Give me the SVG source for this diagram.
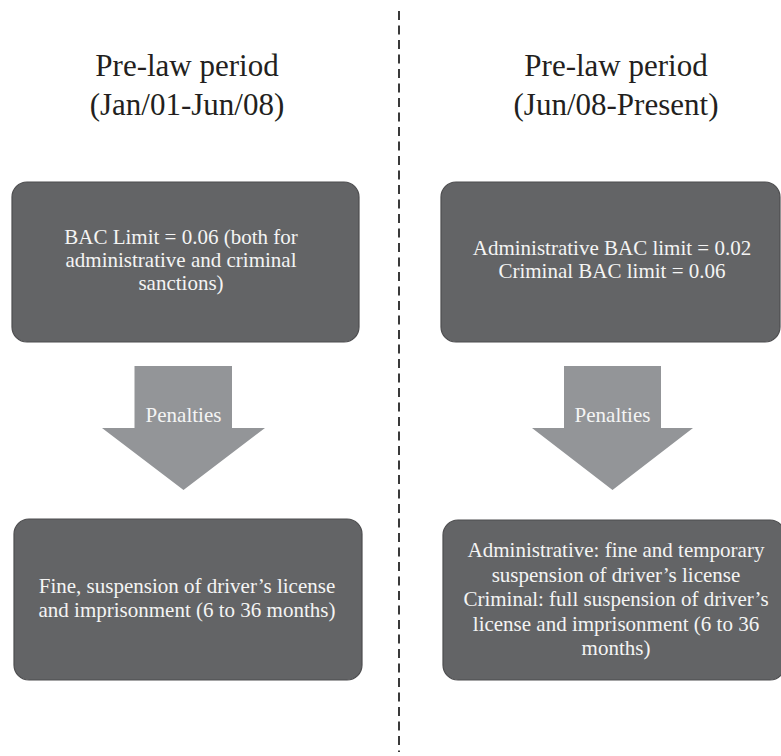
<svg xmlns="http://www.w3.org/2000/svg" width="781" height="756" viewBox="0 0 781 756">
<style>
.title{font-family:"Liberation Serif","Times New Roman",serif;font-size:31px;fill:#231f20;text-anchor:middle}
.box{fill:#636466;stroke:#4d4d4f;stroke-width:1.2}
.btxt{font-family:"Liberation Serif","Times New Roman",serif;font-size:21px;fill:#f4f4f4;text-anchor:middle}
.arrow{fill:#939598}
.divider{stroke:#3a3a3a;stroke-width:2;stroke-dasharray:9 5.5;fill:none}
</style>
<rect width="781" height="756" fill="#ffffff"/>
<g id="connectors">
<line class="divider" x1="399" y1="11" x2="399" y2="752"/>
<g id="arrow-left">
<polygon class="arrow" points="134.5,366 232,366 232,428 265,428 183.5,490 102,428 134.5,428"/>
<text class="btxt" x="183.5" y="422">Penalties</text>
</g>
<g id="arrow-right">
<polygon class="arrow" points="564,366 661,366 661,428 693,428 612.5,490 532,428 564,428"/>
<text class="btxt" x="612.5" y="422">Penalties</text>
</g>
</g>
<g id="title-left">
<text class="title" x="187" y="76">Pre-law period</text>
<text class="title" x="187" y="115">(Jan/01-Jun/08)</text>
</g>
<g id="title-right">
<text class="title" x="616" y="76">Pre-law period</text>
<text class="title" x="616" y="115">(Jun/08-Present)</text>
</g>
<g id="box-left-top">
<rect class="box" x="12" y="182" width="347" height="160" rx="15"/>
<text class="btxt" x="181" y="244">BAC Limit = 0.06 (both for</text>
<text class="btxt" x="181" y="267">administrative and criminal</text>
<text class="btxt" x="181" y="290">sanctions)</text>
</g>
<g id="box-right-top">
<rect class="box" x="441" y="182" width="339" height="160" rx="15"/>
<text class="btxt" x="612" y="255">Administrative BAC limit = 0.02</text>
<text class="btxt" x="612" y="278">Criminal BAC limit = 0.06</text>
</g>
<g id="box-left-bottom">
<rect class="box" x="14" y="519" width="348" height="161" rx="15"/>
<text class="btxt" x="187" y="593">Fine, suspension of driver’s license</text>
<text class="btxt" x="187" y="617">and imprisonment (6 to 36 months)</text>
</g>
<g id="box-right-bottom">
<rect class="box" x="443" y="520" width="342" height="160" rx="15"/>
<text class="btxt" x="616" y="557">Administrative: fine and temporary</text>
<text class="btxt" x="616" y="581.5">suspension of driver’s license</text>
<text class="btxt" x="616" y="606">Criminal: full suspension of driver’s</text>
<text class="btxt" x="616" y="630.5">license and imprisonment (6 to 36</text>
<text class="btxt" x="616" y="655">months)</text>
</g>
</svg>
